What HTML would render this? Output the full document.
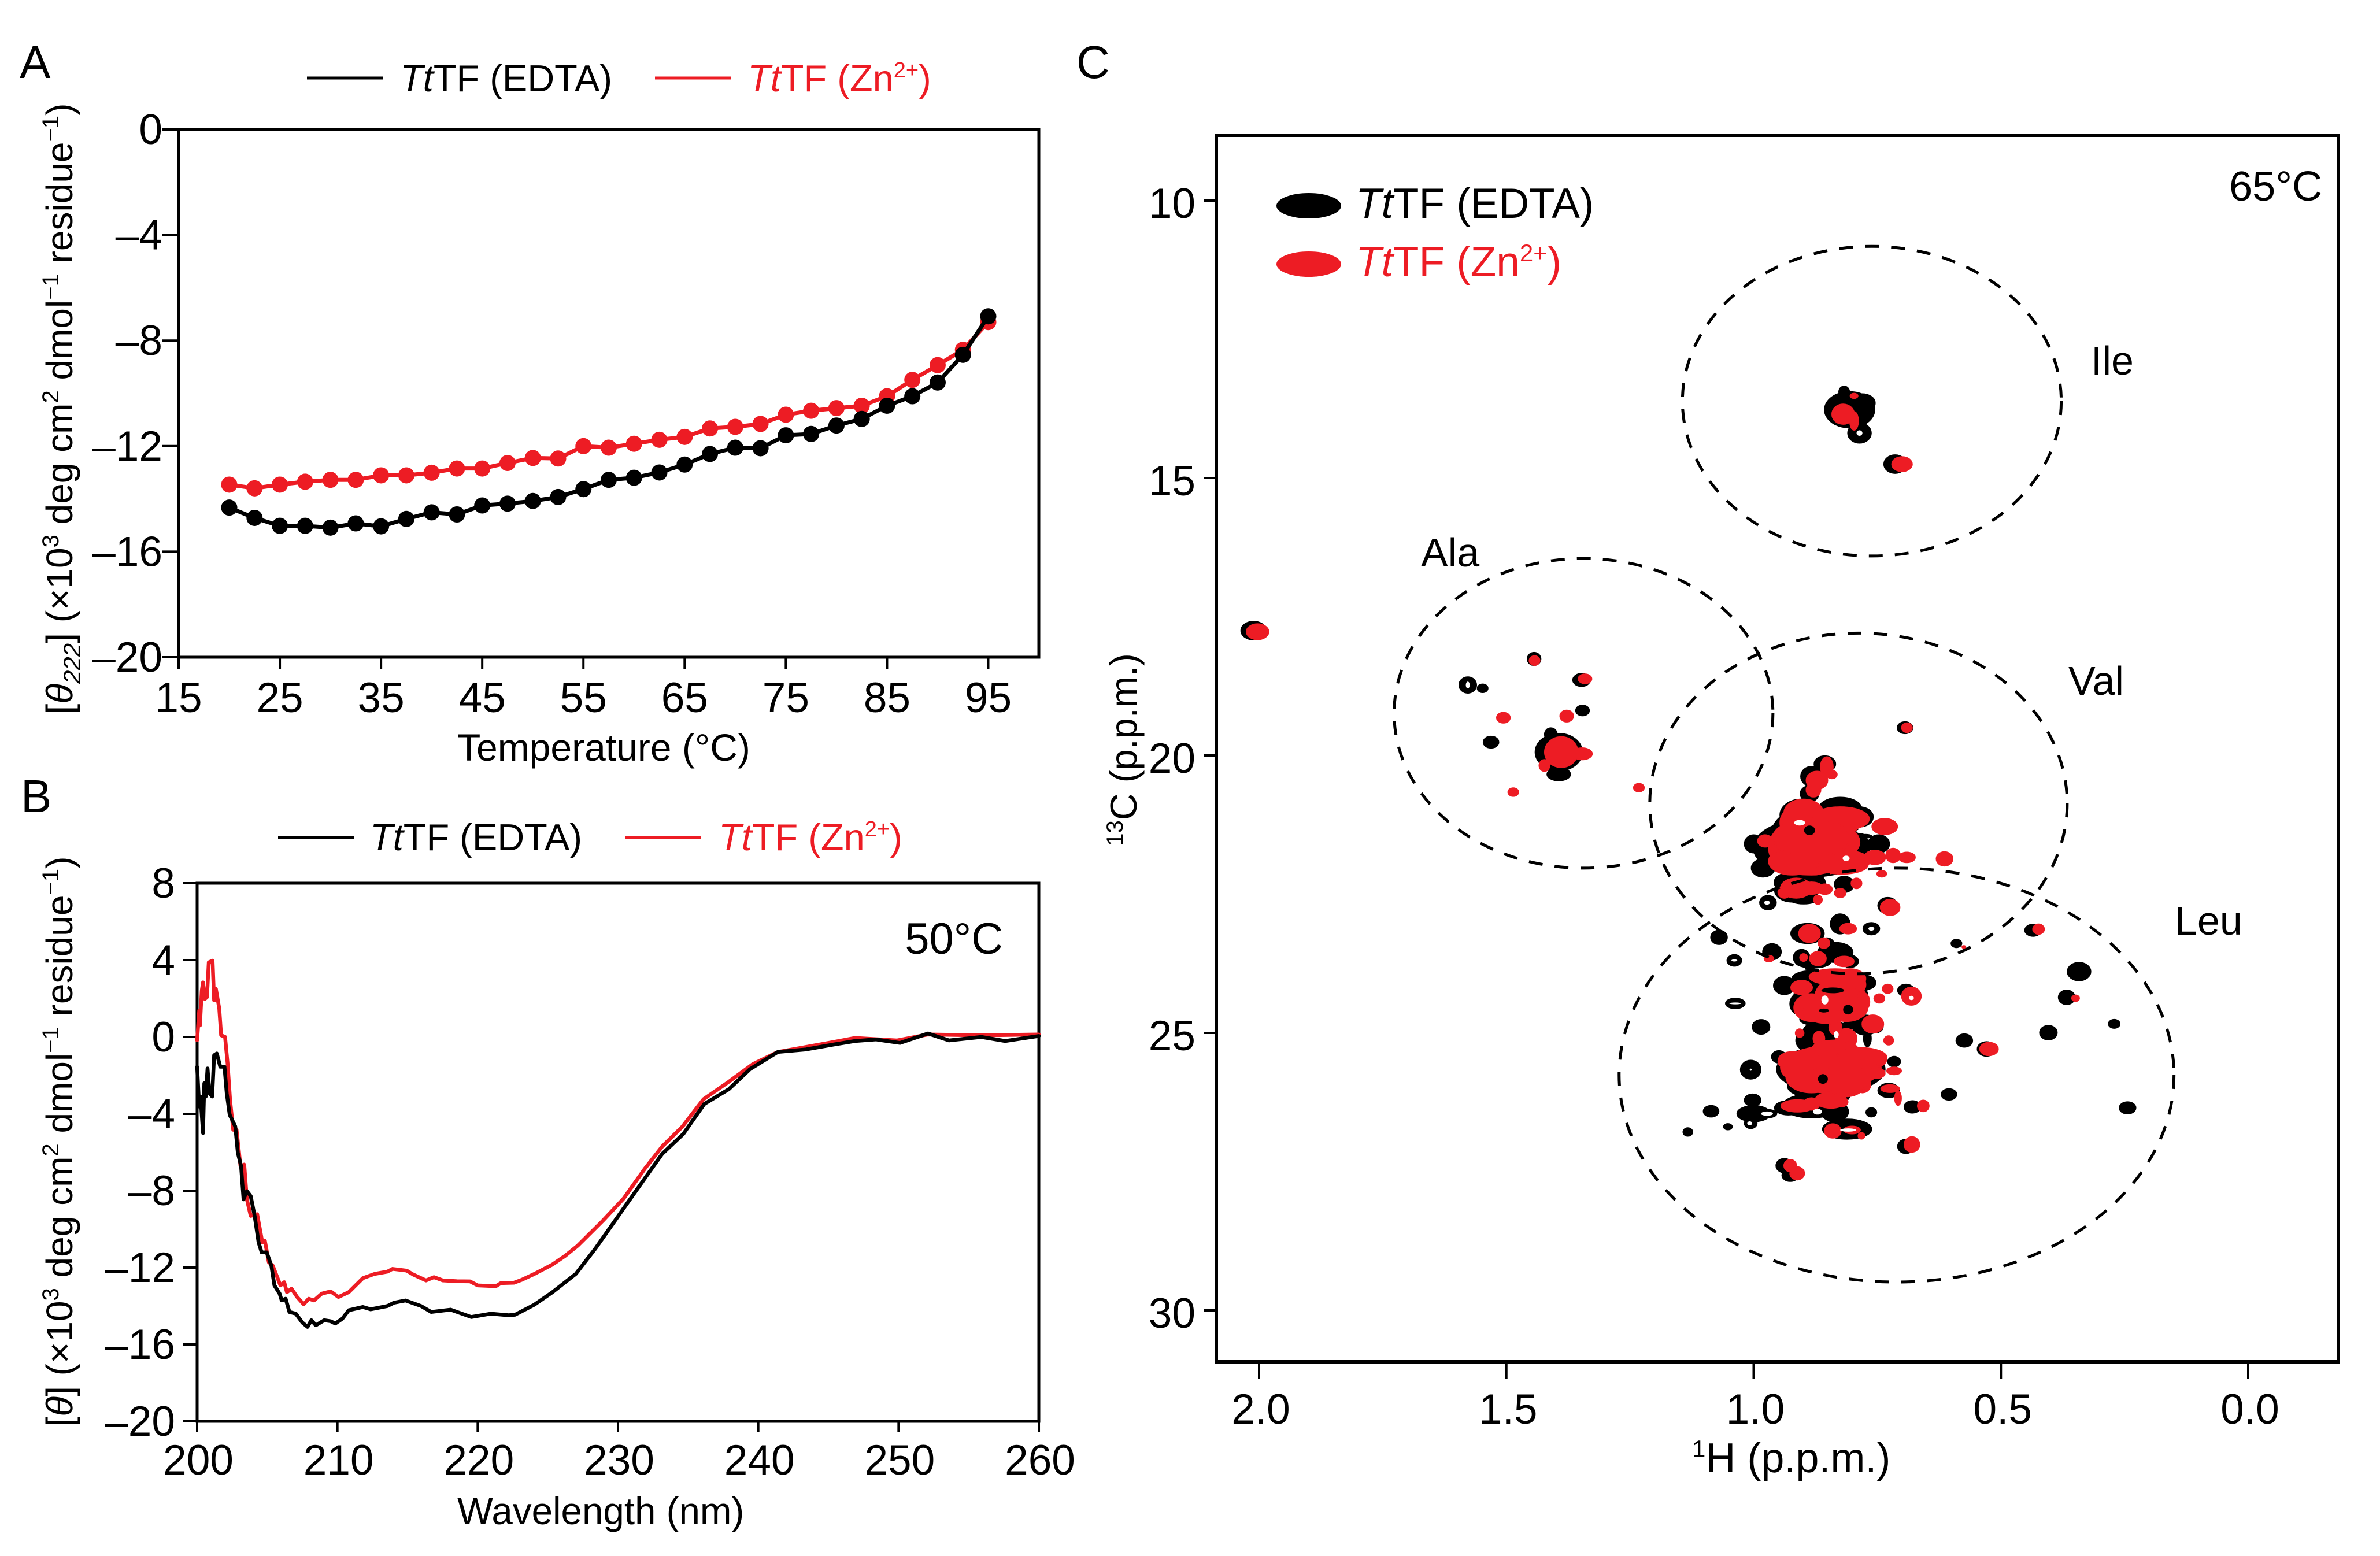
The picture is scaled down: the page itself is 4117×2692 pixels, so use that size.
<!DOCTYPE html>
<html lang="en">
<head>
<meta charset="utf-8">
<title>TtTF circular dichroism and NMR spectra</title>
<style>
html,body{margin:0;padding:0;background:#fff}
svg{display:block}
text{font-family:"Liberation Sans",Arial,sans-serif;fill:#000}
.red{fill:#ed1c24}
.tick{font-size:73px}
.title{font-size:65px}
.legend{font-size:65px}
.legend-c{font-size:73px}
.note{font-size:72px}
.panel{font-size:80px}
</style>
</head>
<body>
<svg id="figure" xmlns="http://www.w3.org/2000/svg" width="4117" height="2692" viewBox="0 0 4117 2692">
<rect width="4117" height="2692" fill="#fff"/>

<text class="panel" x="34" y="135">A</text>
<text class="panel" x="36" y="1405">B</text>
<text class="panel" x="1862" y="135">C</text>

<!-- Panel A static -->
<g>
<line x1="531" x2="663" y1="135" y2="135" stroke="#000" stroke-width="5"/>
<text class="legend" x="692" y="158"><tspan font-style="italic">Tt</tspan>TF (EDTA)</text>
<line x1="1133" x2="1264" y1="135" y2="135" stroke="#ed1c24" stroke-width="5"/>
<text class="legend red" x="1293" y="158"><tspan font-style="italic">Tt</tspan>TF (Zn<tspan font-size="38" baseline-shift="24">2+</tspan>)</text>
</g>
<text class="title" style="font-size:64px" transform="translate(125,707) rotate(-90)" text-anchor="middle">[<tspan font-style="italic">θ</tspan><tspan font-size="42" font-style="italic" baseline-shift="-14">222</tspan>] (×10<tspan font-size="40" baseline-shift="24">3</tspan> deg cm<tspan font-size="40" baseline-shift="24">2</tspan> dmol<tspan font-size="40" baseline-shift="24">−1</tspan> residue<tspan font-size="40" baseline-shift="24">−1</tspan>)</text>
<text class="title" style="font-size:66px" x="791" y="1316">Temperature (°C)</text>

<!-- Panel B static -->
<g>
<line x1="481" x2="612" y1="1449" y2="1449" stroke="#000" stroke-width="5"/>
<text class="legend" x="640" y="1471"><tspan font-style="italic">Tt</tspan>TF (EDTA)</text>
<line x1="1082" x2="1213" y1="1449" y2="1449" stroke="#ed1c24" stroke-width="5"/>
<text class="legend red" x="1243" y="1471"><tspan font-style="italic">Tt</tspan>TF (Zn<tspan font-size="38" baseline-shift="24">2+</tspan>)</text>
</g>
<text class="title" style="font-size:64px" transform="translate(125,1975) rotate(-90)" text-anchor="middle">[<tspan font-style="italic">θ</tspan>] (×10<tspan font-size="40" baseline-shift="24">3</tspan> deg cm<tspan font-size="40" baseline-shift="24">2</tspan> dmol<tspan font-size="40" baseline-shift="24">−1</tspan> residue<tspan font-size="40" baseline-shift="24">−1</tspan>)</text>
<text class="title" style="font-size:65.5px" x="791" y="2637">Wavelength (nm)</text>
<text class="note" style="font-size:76px" x="1735" y="1650" text-anchor="end">50°C</text>

<!-- Panel C static -->
<text class="title" style="font-size:65px" transform="translate(1966,1297) rotate(-90)" text-anchor="middle"><tspan font-size="40" baseline-shift="24">13</tspan>C (p.p.m.)</text>
<text class="title" style="font-size:72px" x="2927" y="2547"><tspan font-size="42" baseline-shift="26">1</tspan>H (p.p.m.)</text>

<g id="plot-a"></g>
<g id="plot-b"></g>
<g id="plot-c"></g>

<g>
<ellipse cx="2264" cy="356" rx="56" ry="22" fill="#000"/>
<text class="legend-c" x="2345" y="377"><tspan font-style="italic">Tt</tspan>TF (EDTA)</text>
<ellipse cx="2264" cy="457" rx="56" ry="22" fill="#ed1c24"/>
<text class="legend-c red" x="2345" y="478"><tspan font-style="italic">Tt</tspan>TF (Zn<tspan font-size="42" baseline-shift="26">2+</tspan>)</text>
</g>
<text class="note" x="4017" y="347" text-anchor="end">65°C</text>
<text class="note" style="font-size:70px" x="3617" y="648">Ile</text>
<text class="note" style="font-size:70px" x="2458" y="980">Ala</text>
<text class="note" style="font-size:70px" x="3578" y="1202">Val</text>
<text class="note" style="font-size:70px" x="3762" y="1617">Leu</text>
</svg>

<script>
/* ---------- Panel A data ---------- */
var meltTemps = [20,22.5,25,27.5,30,32.5,35,37.5,40,42.5,45,47.5,50,52.5,55,57.5,60,62.5,65,67.5,70,72.5,75,77.5,80,82.5,85,87.5,90,92.5,95];
var meltEdta = [-14.33,-14.72,-15.02,-15.02,-15.09,-14.93,-15.04,-14.76,-14.51,-14.59,-14.25,-14.18,-14.08,-13.93,-13.63,-13.28,-13.2,-13.0,-12.7,-12.3,-12.06,-12.08,-11.59,-11.54,-11.22,-10.97,-10.47,-10.11,-9.59,-8.54,-7.08];
var meltZn = [-13.46,-13.6,-13.46,-13.35,-13.28,-13.28,-13.11,-13.11,-13.01,-12.85,-12.85,-12.64,-12.45,-12.47,-12.0,-12.06,-11.91,-11.76,-11.65,-11.33,-11.27,-11.16,-10.81,-10.66,-10.56,-10.47,-10.11,-9.49,-8.93,-8.35,-7.3];
var meltXTicks = [15,25,35,45,55,65,75,85,95];
var meltYTicks = [0,-4,-8,-12,-16,-20];

/* ---------- Panel B data ---------- */
var cdEdtaWave = [200,200.15,200.24,200.42,200.51,200.61,200.74,200.88,201.07,201.21,201.4,201.65,201.95,202.11,202.32,202.72,202.9,203.13,203.31,203.55,203.82,204.1,204.38,204.6,204.96,205.29,205.51,205.88,206.03,206.31,206.58,207.04,207.5,207.87,208.14,208.46,209.06,209.52,209.85,210.35,210.81,211.82,212.37,213.57,214.03,214.85,215.96,216.69,218.07,219.54,220.92,222.21,222.67,224.04,225.33,226.99,228.4,230.15,231.9,233.15,234.65,236.15,237.9,239.4,241.4,243.4,245.4,246.9,248.4,250.1,252.1,253.6,255.9,257.6,260];
var cdEdtaValue = [-1.55,-3.62,-3.1,-5,-2.41,-3.1,-1.64,-2.93,-3.1,-0.95,-0.86,-1.55,-1.55,-2.93,-4.05,-4.66,-6.03,-6.72,-8.45,-8.02,-8.28,-9.31,-10.69,-11.21,-11.21,-11.9,-12.93,-13.36,-13.71,-13.62,-14.31,-14.4,-14.86,-15.09,-14.74,-15,-14.74,-14.79,-14.91,-14.66,-14.22,-14.05,-14.17,-14,-13.83,-13.71,-14,-14.31,-14.19,-14.57,-14.4,-14.48,-14.45,-13.93,-13.28,-12.33,-11,-9.18,-7.37,-6.08,-5.05,-3.49,-2.72,-1.68,-0.78,-0.65,-0.39,-0.21,-0.13,-0.31,0.18,-0.18,0,-0.21,0.05];
var cdZnWave = [200,200.15,200.2,200.33,200.42,200.55,200.7,200.83,201.1,201.21,201.34,201.58,201.71,201.99,202.17,202.35,202.57,202.81,203.09,203.36,203.55,203.82,204.28,204.65,204.83,205.11,205.39,205.66,205.94,206.21,206.4,206.73,207.13,207.59,207.96,208.33,208.88,209.52,210.07,210.81,211.82,212.65,213.57,213.93,214.94,215.4,216.32,216.88,217.52,218.53,219.45,220,221.29,221.65,222.57,223.13,224.04,225.33,226.25,227.13,228.9,230.4,231.9,233.15,234.6,236.1,237.9,239.6,241.4,243.4,245.4,246.9,249.9,252.1,255.9,260];
var cdZnValue = [-0.17,1.38,0.6,2.41,2.84,1.98,2.07,3.88,3.97,1.9,2.5,1.47,0.09,0,-1.38,-3.28,-4.83,-4.83,-6.72,-6.64,-8.45,-9.31,-9.22,-10.69,-10.6,-11.72,-11.9,-12.41,-12.93,-12.76,-13.28,-13.1,-13.53,-13.91,-13.62,-13.71,-13.36,-13.24,-13.53,-13.28,-12.55,-12.33,-12.21,-12.07,-12.16,-12.36,-12.67,-12.5,-12.67,-12.71,-12.72,-12.93,-12.97,-12.81,-12.79,-12.64,-12.33,-11.84,-11.38,-10.86,-9.58,-8.41,-6.87,-5.7,-4.66,-3.24,-2.33,-1.42,-0.78,-0.52,-0.26,-0.05,-0.18,0.13,0.08,0.13];
var cdXTicks = [200,210,220,230,240,250,260];
var cdYTicks = [8,4,0,-4,-8,-12,-16,-20];

/* ---------- Panel C data: peaks are [1H ppm, 13C ppm, 1H half-width, 13C half-width] ---------- */
var nmrHTicks = [2.0,1.5,1.0,0.5,0.0];
var nmrCTicks = [10,15,20,25,30];
var regionNames = ['ile','ala','val','leu'];
var regionH = [0.761,1.344,0.788,0.711];
var regionC = [13.615,19.24,20.865,25.76];
var regionHalfH = [0.383,0.383,0.422,0.561];
var regionHalfC = [2.79,2.79,3.07,3.73];

var edtaPeaks = [
[2.011,17.75,.025,.16],[.714,14.75,.022,.16],[.806,13.77,.05,.32],[.78,13.65,.025,.16],[.817,13.45,.01,.1],[.786,14.19,.023,.175],
[1.444,18.26,.013,.11],[1.348,18.64,.017,.11],[1.578,18.73,.017,.14],[1.548,18.79,.01,.07],[1.346,19.19,.013,.09],[1.531,19.76,.015,.1],
[1.394,19.94,.047,.33],[1.394,20.34,.023,.11],[1.41,19.62,.012,.11],[.694,19.5,.015,.1],
[.856,20.153,.021,.139],[.883,20.378,.021,.174],[.887,20.691,.018,.139],[.903,21.073,.043,.278],[.825,20.969,.043,.208],[.786,21.107,.027,.174],[.922,21.49,.043,.451],[.747,21.594,.021,.156],[1.0,21.594,.018,.156],[.981,22.028,.023,.156],[.883,21.663,.117,.521],[.922,22.427,.035,.208],[.899,22.566,.031,.104],[.817,22.323,.019,.139],[.971,22.653,.016,.122],[.729,22.705,.019,.139],[.825,23.035,.019,.174],[.891,23.208,.033,.174],[.762,23.122,.016,.104],[1.07,23.278,.016,.122],[.963,23.538,.018,.139],[1.039,23.694,.014,.097],[.903,23.642,.016,.139],[.852,23.399,.014,.104],[.825,23.573,.019,.174],[.805,23.711,.016,.104],
[.907,22.288,.051,.208],[.835,23.55,.035,.174],[.88,23.72,.035,.104],
[.938,24.146,.021,.156],[.883,24.024,.039,.139],[.903,24.476,.023,.208],[.844,24.337,.074,.382],[.782,24.094,.027,.139],[.766,24.094,.012,.104],[.875,24.754,.031,.104],[.794,24.823,.023,.104],[.755,24.892,.016,.104],[.77,25.101,.007,.139],[.891,25.17,.019,.139],[.86,24.927,.016,.087],[.852,25.205,.039,.208],[.949,25.431,.014,.104],[.844,25.656,.109,.417],[.907,25.865,.023,.139],[.864,26.108,.051,.139],[.716,25.517,.012,.087],[.883,26.316,.058,.208],[.836,26.42,.027,.174],[.93,26.351,.027,.122],[1.0,26.455,.033,.139],[1.002,26.212,.016,.104],[1.006,26.629,.012,.087],[.973,26.455,.019,.069],[.811,26.733,.049,.174],[.762,26.431,.01,.076],[.727,26.038,.021,.122],[.679,26.333,.016,.104],[.692,24.233,.016,.104],[1.037,24.469,.019,.087],[.985,24.892,.017,.125],[1.006,25.663,.02,.163],[1.086,26.413,.015,.097],[1.052,26.691,.008,.049],[1.133,26.785,.009,.069],[.692,27.045,.016,.122],[.938,27.392,.016,.122],[.926,27.566,.016,.104],
[.852,24.962,.047,.174],[.883,25.135,.031,.208],[.821,26.073,.016,.174],[.774,24.858,.027,.174],[.9,25.95,.031,.174],[.88,24.4,.04,.26],
[.342,23.895,.023,.158],[.367,24.358,.016,.124],[.271,24.838,.011,.073],[.404,24.996,.017,.124],[.244,26.351,.016,.102],[.605,26.108,.015,.096],[.574,25.137,.016,.113],[.529,25.29,.018,.124],[.435,23.15,.016,.102],[.59,23.387,.01,.068]
];
var znPeaks = [
[2.003,17.77,.022,.135],[.7,14.75,.02,.127],[.819,13.85,.022,.175],[.797,13.97,.008,.16],[.797,13.52,.007,.04],
[1.443,18.29,.01,.08],[1.341,18.62,.013,.08],[1.506,19.32,.013,.09],[1.378,19.29,.013,.1],[1.389,19.94,.033,.27],[1.347,19.97,.02,.1],[1.423,20.18,.01,.1],[1.486,20.66,.01,.07],[1.232,20.58,.01,.07],[.69,19.5,.01,.08],
[.852,20.205,.012,.174],[.872,20.448,.021,.156],[.879,20.621,.014,.122],[.842,20.344,.01,.069],[.977,21.541,.014,.104],[.907,21.212,.039,.313],[.833,21.212,.047,.243],[.735,21.281,.025,.139],[.805,21.142,.023,.139],[.883,21.906,.086,.243],[.922,21.663,.047,.417],[.856,21.559,.07,.347],[.805,21.906,.039,.174],[.755,21.837,.021,.122],[.718,21.802,.014,.122],[.69,21.837,.016,.087],[.614,21.864,.016,.122],[.741,22.132,.009,.052],[.792,22.305,.01,.087],[.825,22.479,.011,.076],[.856,22.41,.014,.087],[.914,22.392,.031,.174],[.87,22.6,.008,.076],[.724,22.739,.019,.139],[.809,23.122,.016,.087],[.887,23.208,.021,.156],[.858,23.382,.011,.087],[.899,23.642,.007,.063],[.87,23.66,.016,.122],[.817,23.712,.019,.087],[.969,23.66,.009,.052],[.575,23.451,.003,.017],
[.899,21.038,.039,.243],[.825,21.142,.058,.208],[.922,21.906,.047,.243],[.821,21.975,.051,.156],[.883,21.49,.078,.347],[.883,22.392,.023,.104],[.938,22.462,.012,.104],
[.903,24.181,.021,.122],[.836,23.99,.051,.139],[.883,24.545,.021,.208],[.825,24.372,.051,.382],[.786,24.129,.012,.139],[.782,24.441,.016,.174],[.844,24.58,.031,.174],[.729,24.205,.01,.076],[.746,24.379,.01,.076],[.681,24.337,.019,.156],[.759,24.84,.021,.156],[.907,25.004,.008,.069],[.727,25.135,.009,.076],[.813,25.101,.021,.174],[.835,24.892,.012,.139],[.868,25.101,.011,.122],[.922,25.483,.027,.139],[.844,25.622,.101,.382],[.759,25.483,.027,.139],[.856,25.899,.051,.174],[.751,25.726,.016,.087],[.716,25.684,.014,.063],[.78,25.934,.016,.139],[.844,26.212,.031,.139],[.911,26.316,.033,.104],[.883,26.281,.016,.104],[.84,26.767,.016,.122],[.801,26.75,.016,.063],[.782,26.854,.006,.052],[.724,26.004,.018,.063],[.708,26.177,.006,.122],[.657,26.316,.011,.097],[.68,27.01,.015,.132],[.926,27.392,.012,.104],[.912,27.531,.014,.111],[.821,26.247,.011,.076],
[.883,24.545,.035,.243],[.813,24.545,.043,.243],[.852,24.615,.047,.208],[.805,24.024,.031,.174],[.883,25.795,.051,.278],[.813,25.83,.043,.313],[.836,25.309,.047,.174],[.782,25.448,.051,.174],[.907,25.517,.043,.174],
[.349,24.375,.007,.051],[.524,25.29,.018,.113],[.424,23.13,.011,.085]
];
var edtaInnerPeaks = [[.887,21.35,.011,.087],[.774,21.455,.014,.042],[.858,24.597,.01,.035],[.84,24.233,.023,.052],[.809,24.58,.01,.087],[.86,25.83,.01,.087]];
var contourHoles = [[.907,21.212,.011,.05],[.813,21.854,.007,.05],[.782,21.368,.01,.035],[.856,24.406,.007,.08],[.871,26.42,.009,.052],[.833,25.031,.005,.063],[.681,24.37,.005,.04],[1.037,24.469,.012,.017],[1.006,25.663,.002,.02],[.973,26.455,.012,.04],[1.008,26.629,.005,.035],[1.039,23.694,.006,.02],[.809,26.75,.016,.03],[.973,22.653,.006,.035],[.762,23.122,.006,.035],[.786,14.19,.006,.05],[1.578,18.73,.004,.06]];

/* ---------- scales ---------- */
function xA(t){return 309+(t-15)*17.506;}
function yA(v){return 224-v*45.65;}
function xB(w){return 341+(w-200)*24.267;}
function yB(v){return 1528+(8-v)*33.25;}
function xC(h){return 3889-h*855.5;}
function yC(c){return 347+(c-10)*96;}

var NS='http://www.w3.org/2000/svg';
function add(parent,tag,attrs){
  var el=document.createElementNS(NS,tag);
  for(var k in attrs){el.setAttribute(k,attrs[k]);}
  parent.appendChild(el);
  return el;
}
function fmtTick(v){return v<0?'–'+(-v):String(v);}
function polyline(parent,xs,ys,fx,fy,color,width){
  var pts=[];
  for(var i=0;i<xs.length;i++){pts.push(fx(xs[i]).toFixed(1)+','+fy(ys[i]).toFixed(1));}
  return add(parent,'polyline',{points:pts.join(' '),fill:'none',stroke:color,'stroke-width':width,'stroke-linejoin':'round','stroke-linecap':'round'});
}
function drawTickLabel(parent,x,y,str,anchor){
  var t=add(parent,'text',{x:x,y:y,'text-anchor':anchor,'class':'tick'});
  t.textContent=str;
  return t;
}

/* ---------- Panel A ---------- */
var pa=document.getElementById('plot-a');
var boxA=add(pa,'rect',{x:309,y:224,width:1488,height:913,fill:'none',stroke:'#000','stroke-width':5});


meltXTicks.forEach(function(v){
  var l=add(pa,'line',{x1:xA(v),x2:xA(v),y1:1137,y2:1157,stroke:'#000','stroke-width':4});
  
  
  var t=drawTickLabel(pa,xA(v),1232,fmtTick(v),'middle');
  
  
});
meltYTicks.forEach(function(v){
  var l=add(pa,'line',{x1:281,x2:309,y1:yA(v),y2:yA(v),stroke:'#000','stroke-width':4});
  
  
  var t=drawTickLabel(pa,281,yA(v)+25,fmtTick(v),'end');
  
  
});
var lineAz=polyline(pa,meltTemps,meltZn,xA,yA,'#ed1c24',7);


meltTemps.forEach(function(t,i){
  var c=add(pa,'circle',{cx:xA(t),cy:yA(meltZn[i]),r:14,fill:'#ed1c24'});
  
  
});
var lineAe=polyline(pa,meltTemps,meltEdta,xA,yA,'#000',7);


meltTemps.forEach(function(t,i){
  var c=add(pa,'circle',{cx:xA(t),cy:yA(meltEdta[i]),r:14,fill:'#000'});
  
  
});

/* ---------- Panel B ---------- */
var pb=document.getElementById('plot-b');
var boxB=add(pb,'rect',{x:341,y:1528,width:1456,height:931,fill:'none',stroke:'#000','stroke-width':5});


cdXTicks.forEach(function(v){
  var l=add(pb,'line',{x1:xB(v),x2:xB(v),y1:2459,y2:2477,stroke:'#000','stroke-width':4});
  
  
  var t=drawTickLabel(pb,xB(v)+2,2551,fmtTick(v),'middle');
  
  
});
cdYTicks.forEach(function(v){
  var l=add(pb,'line',{x1:317,x2:341,y1:yB(v),y2:yB(v),stroke:'#000','stroke-width':4});
  
  
  var t=drawTickLabel(pb,303,yB(v)+25,fmtTick(v),'end');
  
  
});
var lineBz=polyline(pb,cdZnWave,cdZnValue,xB,yB,'#ed1c24',6.5);


var lineBe=polyline(pb,cdEdtaWave,cdEdtaValue,xB,yB,'#000',6.5);



/* ---------- Panel C ---------- */
var pc=document.getElementById('plot-c');
function drawPeaks(list,color,name,outline){
  var g=add(pc,'g',{fill:color,stroke:color,'stroke-width':outline});
  
  
  list.forEach(function(p){
    var e=add(g,'ellipse',{cx:xC(p[0]).toFixed(1),cy:yC(p[1]).toFixed(1),rx:(p[2]*855.5).toFixed(1),ry:(p[3]*96).toFixed(1)});
    
    
  });
}
drawPeaks(edtaPeaks,'#000','nmr-peak-edta',3);
drawPeaks(znPeaks,'#ed1c24','nmr-peak-zn',3);
drawPeaks(edtaInnerPeaks,'#000','nmr-peak-edta-inner',0);
drawPeaks(contourHoles,'#fff','nmr-contour-hole',0);

regionNames.forEach(function(n,i){
  var e=add(pc,'ellipse',{cx:xC(regionH[i]),cy:yC(regionC[i]),rx:regionHalfH[i]*855.5,ry:regionHalfC[i]*96,fill:'none',stroke:'#000','stroke-width':5,'stroke-dasharray':'24 21'});
  
  
});
var boxC=add(pc,'rect',{x:2104,y:234,width:1941,height:2122,fill:'none',stroke:'#000','stroke-width':6});


nmrHTicks.forEach(function(v){
  var l=add(pc,'line',{x1:xC(v),x2:xC(v),y1:2356,y2:2386,stroke:'#000','stroke-width':4});
  
  
  var t=drawTickLabel(pc,xC(v)+3,2463,v.toFixed(1),'middle');
  
  
});
nmrCTicks.forEach(function(v){
  var l=add(pc,'line',{x1:2083,x2:2104,y1:yC(v),y2:yC(v),stroke:'#000','stroke-width':4});
  
  
  var t=drawTickLabel(pc,2068,yC(v)+30,String(v),'end');
  
  
});
</script>
</body>
</html>
